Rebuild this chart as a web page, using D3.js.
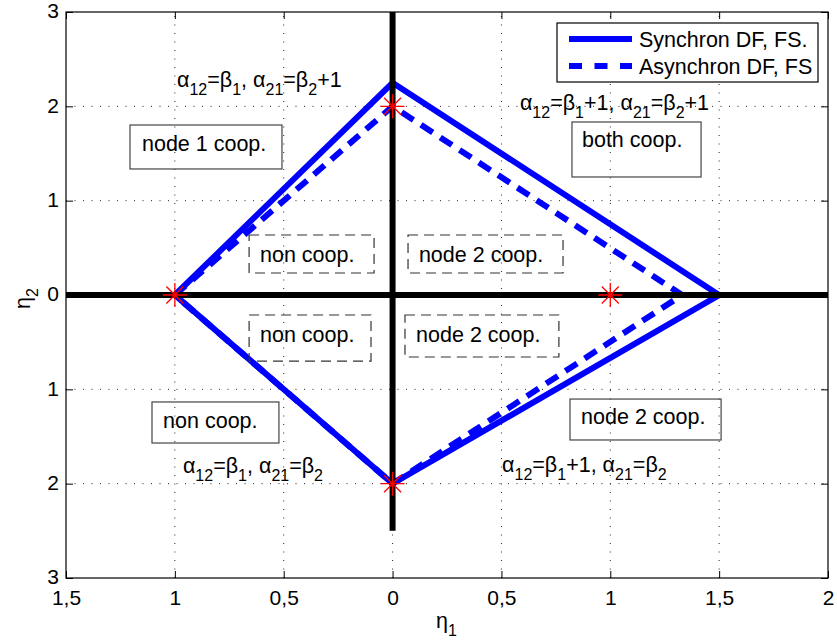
<!DOCTYPE html>
<html><head><meta charset="utf-8">
<script src="https://cdn.jsdelivr.net/npm/d3@7"></script>
<style>body{margin:0;background:#fff}svg{display:block;font-family:"Liberation Sans",Arial,Helvetica,sans-serif}</style>
</head><body><svg id="c" width="837" height="644"></svg>
<script>
// ---- data ----
const xTicks = [-1.5, -1, -0.5, 0, 0.5, 1, 1.5, 2];
const xTickLabels = ["1,5", "1", "0,5", "0", "0,5", "1", "1,5", "2"];
const yTicks = [3, 2, 1, 0, -1, -2, -3];
const yTickLabels = ["3", "2", "1", "0", "1", "2", "3"];
const syncX = [-1, 0, 1.5, 0, -1];
const syncY = [0, 2.25, 0, -2, 0];
const asyncX = [-1, 0, 1.33, 0, -1];
const asyncY = [0, 2, 0, -2, 0];
const starX = [-1, 0, 1, 0];
const starY = [0, 2, 0, -2];
const axisLineX = [-1.5, 2];
const axisLineY = [3, -2.5];
const seriesNames = ["Synchron DF, FS.", "Asynchron DF, FS"];
const regionLabels = ["node 1 coop.", "both coop.", "non coop.", "node 2 coop.", "non coop.", "node 2 coop.", "non coop.", "node 2 coop."];
const formulas = [
  ["α", "12", "=β", "1", ", α", "21", "=β", "2", "+1"],
  ["α", "12", "=β", "1", "+1, α", "21", "=β", "2", "+1"],
  ["α", "12", "=β", "1", ", α", "21", "=β", "2"],
  ["α", "12", "=β", "1", "+1, α", "21", "=β", "2"]
];

// ---- layout (data coordinates) ----
const regionBoxes = [ // [textX, textY, x0, yTop, x1, yBottom, dashed]
  [-1.151, 1.526, -1.206, 1.802, -0.508, 1.336, false],
  [0.870, 1.569, 0.824, 1.834, 1.417, 1.251, false],
  [-0.609, 0.350, -0.659, 0.636, -0.085, 0.233, true],
  [0.121, 0.350, 0.071, 0.636, 0.783, 0.233, true],
  [-0.609, -0.498, -0.659, -0.212, -0.099, -0.700, true],
  [0.108, -0.498, 0.057, -0.212, 0.764, -0.657, true],
  [-1.054, -1.410, -1.105, -1.134, -0.522, -1.569, false],
  [0.866, -1.368, 0.815, -1.103, 1.509, -1.537, false]
];
const formulaPos = [[-0.99, 2.205], [0.585, 1.96], [-0.963, -1.887], [0.503, -1.876]];

const L = 66, R = 828, T = 12, B = 578;
const svg = d3.select("#c");
const x = d3.scaleLinear().domain([-1.5, 2]).range([L, R]);
const y = d3.scaleLinear().domain([-3, 3]).range([B, T]);
const FS = 21.5, SUB = 16;

// grid
const grid = svg.append("g").attr("stroke", "#000").attr("stroke-width", 1).attr("stroke-dasharray", "1,7.5").attr("opacity", 0.85);
xTicks.slice(1, -1).forEach(v => grid.append("line").attr("x1", x(v)).attr("x2", x(v)).attr("y1", B).attr("y2", T));
yTicks.slice(1, -1).forEach(v => grid.append("line").attr("y1", y(v)).attr("y2", y(v)).attr("x1", L).attr("x2", R));

// blue lines
const line = d3.line().x(d => x(d[0])).y(d => y(d[1]));
svg.append("path").datum(syncX.map((v, i) => [v, syncY[i]])).attr("d", line)
  .attr("fill", "none").attr("stroke", "#0000ff").attr("stroke-width", 6).attr("stroke-linejoin", "miter");
svg.append("path").datum(asyncX.map((v, i) => [v, asyncY[i]])).attr("d", line)
  .attr("fill", "none").attr("stroke", "#0000ff").attr("stroke-width", 6).attr("stroke-dasharray", "14,9");

// black axis lines
svg.append("line").attr("x1", x(axisLineX[0])).attr("x2", x(axisLineX[1])).attr("y1", y(0)).attr("y2", y(0))
  .attr("stroke", "#000").attr("stroke-width", 6);
svg.append("line").attr("x1", x(0)).attr("x2", x(0)).attr("y1", y(axisLineY[0])).attr("y2", y(axisLineY[1]))
  .attr("stroke", "#000").attr("stroke-width", 6);

// stars
starX.forEach((v, i) => {
  const cx = x(v), cy = y(starY[i]);
  const a = 12, d = 8.5;
  svg.append("path").attr("d", `M${cx - a},${cy}H${cx + a}M${cx},${cy - a}V${cy + a}M${cx - d},${cy - d}L${cx + d},${cy + d}M${cx - d},${cy + d}L${cx + d},${cy - d}`)
    .attr("stroke", "#ff0000").attr("stroke-width", 1.3).attr("fill", "none");
});

// region boxes
regionBoxes.forEach((b, i) => {
  svg.append("rect").attr("x", x(b[2])).attr("y", y(b[3])).attr("width", x(b[4]) - x(b[2])).attr("height", y(b[5]) - y(b[3]))
    .attr("fill", "none").attr("stroke", b[6] ? "#333" : "#444").attr("stroke-width", 1.2)
    .attr("stroke-dasharray", b[6] ? "10,6" : null);
  svg.append("text").attr("x", x(b[0])).attr("y", y(b[1])).attr("font-size", FS).attr("fill", "#000").text(regionLabels[i]);
});

// formulas
formulas.forEach((parts, i) => {
  const t = svg.append("text").attr("x", x(formulaPos[i][0])).attr("y", y(formulaPos[i][1])).attr("font-size", FS).attr("fill", "#000");
  parts.forEach((p, j) => {
    if (j % 2 === 1) t.append("tspan").attr("dy", 8).attr("font-size", SUB).text(p);
    else t.append("tspan").attr("dy", j === 0 ? 0 : -8).text(p);
  });
});

// axes
const axBottom = d3.axisBottom(x).tickValues(xTicks).tickFormat((d, i) => xTickLabels[i]).tickSizeInner(-7).tickSizeOuter(0).tickPadding(12);
const axTop = d3.axisTop(x).tickValues(xTicks).tickFormat("").tickSizeInner(-7).tickSizeOuter(0);
const axLeft = d3.axisLeft(y).tickValues(yTicks).tickFormat((d, i) => yTickLabels[i]).tickSizeInner(-7).tickSizeOuter(0).tickPadding(7);
const axRight = d3.axisRight(y).tickValues(yTicks).tickFormat("").tickSizeInner(-7).tickSizeOuter(0);
[[axBottom, `translate(0,${B})`, false], [axTop, `translate(0,${T})`, false], [axLeft, `translate(${L},0)`, true], [axRight, `translate(${R},0)`, false]].forEach(([a, tr, isLeft]) => {
  const g = svg.append("g").attr("transform", tr).call(a);
  g.select(".domain").remove();
  g.selectAll("text").attr("font-size", 21).attr("font-family", "Liberation Sans, Arial, sans-serif").attr("fill", "#000");
  if (isLeft) g.selectAll("text").attr("dy", "0.28em");
  g.selectAll("line").attr("stroke", "#000");
});
svg.append("rect").attr("x", L).attr("y", T).attr("width", R - L).attr("height", B - T).attr("fill", "none").attr("stroke", "#000").attr("stroke-width", 1.2);

// axis labels
const xl = svg.append("text").attr("x", 436).attr("y", 628).attr("font-size", FS);
xl.append("tspan").text("η");
xl.append("tspan").attr("dy", 8).attr("font-size", SUB).text("1");
const yl = svg.append("text").attr("transform", "translate(30,309) rotate(-90)").attr("font-size", FS);
yl.append("tspan").text("η");
yl.append("tspan").attr("dy", 8).attr("font-size", SUB).text("2");

// legend
const lg = svg.append("g");
lg.append("rect").attr("x", 557).attr("y", 23).attr("width", 261).attr("height", 59).attr("fill", "#fff").attr("stroke", "#000").attr("stroke-width", 1.2);
[0, 1].forEach(i => {
  const ly = 39 + i * 27;
  lg.append("line").attr("x1", 569).attr("x2", 632).attr("y1", ly).attr("y2", ly)
    .attr("stroke", "#0000ff").attr("stroke-width", 6).attr("stroke-dasharray", i === 1 ? "13,12.5" : null);
  lg.append("text").attr("x", 639).attr("y", ly + 8).attr("font-size", FS).text(seriesNames[i]);
});
</script></body></html>
